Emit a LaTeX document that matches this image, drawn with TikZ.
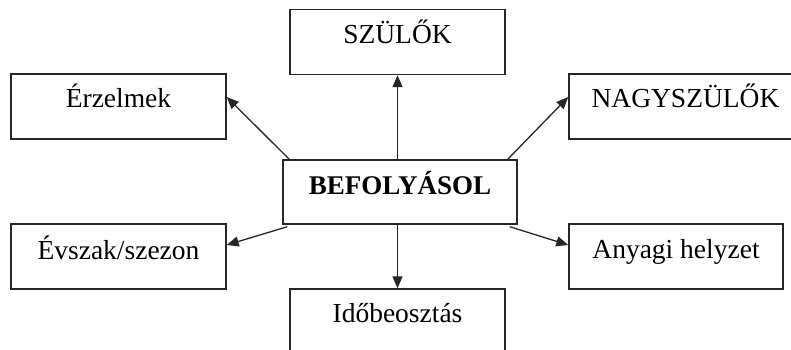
\documentclass[tikz,border=0pt]{standalone}
\usepackage{fontspec}
\setmainfont{Liberation Serif}
\usetikzlibrary{arrows.meta,calc}
\begin{document}
\begin{tikzpicture}[x=1pt,y=-1pt,
  box/.style={draw=black!85,line width=1.4pt,rectangle,inner sep=0pt,minimum width=215pt,minimum height=65pt},
  lbl/.style={anchor=base,inner sep=0pt,font=\fontsize{27.5}{30}\selectfont},
  conn/.style={draw=black!85,line width=1.3pt,-{Triangle[length=12pt,width=10pt]}}]
\clip (0,0) rectangle (791,349);
\fill[white] (0,0) rectangle (791,349);
% boxes
\node[box] (szulo) at (397.5,42) {};
\node[box] (erz) at (118.5,106.5) {};
\node[box,minimum width=233pt] (nagy) at (685.5,106.5) {};
\node[box,minimum width=234pt,minimum height=64pt] (bef) at (400,192) {};
\node[box] (evs) at (118.5,256.5) {};
\node[box,minimum width=214pt] (any) at (676,256.5) {};
\node[box] (ido) at (397.5,321.5) {};
% labels
\node[lbl] (tszulo) at ($(szulo.north)+(0,35)$) {SZÜLŐK};
\node[lbl] (terz) at ($(erz.north)+(0,34)$) {Érzelmek};
\node[lbl] (tnagy) at ($(nagy.north)+(0,34)$) {NAGYSZÜLŐK};
\node[lbl,font=\fontsize{27}{30}\selectfont\bfseries] (tbef) at ($(bef.north)+(0,35)$) {BEFOLYÁSOL};
\node[lbl] (tevs) at ($(evs.north)+(0,36)$) {Évszak/szezon};
\node[lbl] (tany) at ($(any.north)+(0,35)$) {Anyagi helyzet};
\node[lbl] (tido) at ($(ido.north)+(0,34)$) {Időbeosztás};
% connectors
\draw[conn] (bef.north -| szulo.south) -- (szulo.south);
\draw[conn] ($(bef.north west)+(7,0)$) -- ($(erz.east)+(0,-9.5)$);
\draw[conn] ($(bef.north east)+(-10,0)$) -- ($(nagy.west)+(0,-9.5)$);
\draw[conn] ($(bef.south west)+(5,2)$) -- ($(evs.east)+(0,-11.5)$);
\draw[conn] ($(bef.south east)+(-8,2)$) -- ($(any.west)+(0,-11.5)$);
\draw[conn] (bef.south -| ido.north) -- (ido.north);
\end{tikzpicture}
\end{document}
